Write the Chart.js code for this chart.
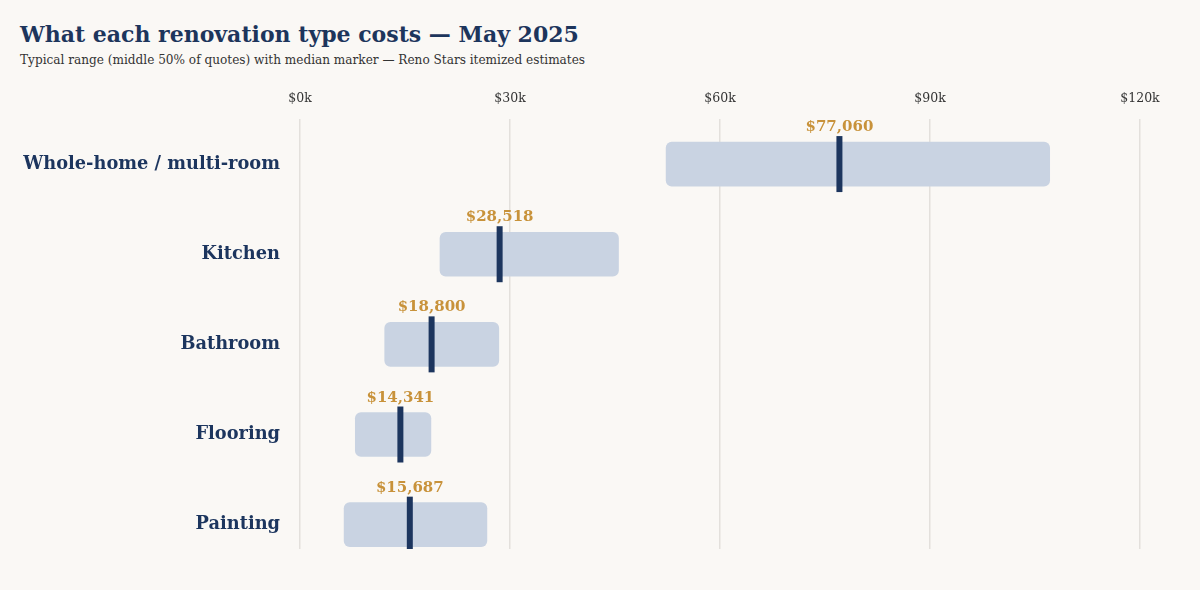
<!DOCTYPE html>
<html>
<head>
<meta charset="utf-8">
<script src="https://cdn.jsdelivr.net/npm/chart.js@4.4.1/dist/chart.umd.min.js"></script>
<style>
  body { margin: 0; background: #faf8f5; }
  #wrap { position: relative; width: 1200px; height: 590px; }
  h1 { position: absolute; left: 20px; top: 21px; margin: 0; font: bold 22px "DejaVu Serif", serif; color: #1d355c; }
  p.sub { position: absolute; left: 20px; top: 53px; margin: 0; font: 12.1px "DejaVu Serif", serif; color: #333; }
  canvas { position: absolute; left: 0; top: 0; }
</style>
</head>
<body>
<div id="wrap">
  <h1>What each renovation type costs — May 2025</h1>
  <p class="sub">Typical range (middle 50% of quotes) with median marker — Reno Stars itemized estimates</p>
  <canvas id="costChart" width="1200" height="590"></canvas>
</div>
<script>
const categories = ['Whole-home / multi-room', 'Kitchen', 'Bathroom', 'Flooring', 'Painting'];
const q1 = [52300, 20000, 12100, 7900, 6300];
const q3 = [107100, 45500, 28400, 18700, 26700];
const medians = [77060, 28518, 18800, 14341, 15687];
const xTicks = [0, 30000, 60000, 90000, 120000];

const navy = '#1c355e';
const gold = '#c8923a';
const serif = '"DejaVu Serif", serif';

// gold median value above each marker
const medianLabels = {
    id: 'medianLabels',
    afterDatasetsDraw(chart) {
        const meta = chart.getDatasetMeta(1);
        const ctx = chart.ctx;
        ctx.save();
        ctx.font = 'bold 15px ' + serif;
        ctx.fillStyle = gold;
        ctx.textAlign = 'center';
        ctx.textBaseline = 'alphabetic';
        meta.data.forEach((pt, i) => {
            ctx.fillText('$' + medians[i].toLocaleString('en-US'), pt.x, pt.y - 33);
        });
        ctx.restore();
    }
};

const ctx = document.getElementById('costChart').getContext('2d');
new Chart(ctx, {
    type: 'bar',
    data: {
        datasets: [
            {
                type: 'bar',
                data: categories.map((c, i) => ({ x: [q1[i], q3[i]], y: i })),
                backgroundColor: '#c9d3e2',
                borderRadius: 6,
                borderSkipped: false,
                barThickness: 44,
                grouped: false,
                order: 2
            },
            {
                type: 'scatter',
                data: medians.map((m, i) => ({ x: m, y: i })),
                pointStyle: 'line',
                rotation: 90,
                radius: 28,
                hoverRadius: 28,
                borderWidth: 6,
                borderColor: navy,
                backgroundColor: navy,
                order: 1
            }
        ]
    },
    options: {
        indexAxis: 'y',
        responsive: false,
        animation: false,
        layout: { padding: { left: 20, right: 60, top: 80, bottom: 41 } },
        plugins: { legend: { display: false }, tooltip: { enabled: false } },
        scales: {
            x: {
                type: 'linear',
                position: 'top',
                min: 0,
                max: 120000,
                afterBuildTicks: axis => { axis.ticks = xTicks.map(v => ({ value: v })); },
                afterFit: axis => { axis.height = 39; },
                ticks: {
                    padding: 13,
                    color: '#333',
                    font: { family: serif, size: 12.5 },
                    callback: v => '$' + (v / 1000) + 'k'
                },
                grid: { color: '#e3e0dc', lineWidth: 1.5, drawTicks: false },
                border: { display: false }
            },
            y: {
                type: 'linear',
                reverse: true,
                offset: false,
                min: -0.5,
                max: 4.27,
                afterBuildTicks: axis => { axis.ticks = categories.map((c, i) => ({ value: i })); },
                afterFit: axis => { axis.width = 280; },
                ticks: {
                    padding: 12,
                    color: navy,
                    font: { family: serif, size: 17.8, weight: 'bold' },
                    callback: v => categories[v]
                },
                grid: { display: false },
                border: { display: false }
            }
        }
    },
    plugins: [medianLabels]
});
</script>
</body>
</html>
